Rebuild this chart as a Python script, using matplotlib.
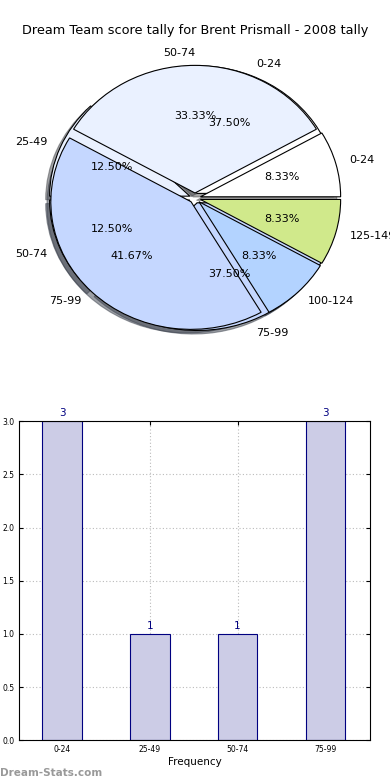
import matplotlib
matplotlib.use("Agg")
import matplotlib.pyplot as plt

# score bands for the 8 games (first pie / bar chart)
bands_a = ["0-24", "25-49", "50-74", "75-99"]
counts_a = [3, 1, 1, 3]
# second tally pie
bands_b = ["0-24", "50-74", "75-99", "100-124", "125-149"]
counts_b = [1, 4, 5, 1, 1]

colors_a = ["#ffffff", "#eaf1ff", "#c5d7ff", "#c5d7ff"]
colors_b = ["#ffffff", "#eaf1ff", "#c5d7ff", "#b3d3ff", "#d0e98b"]

fig = plt.figure(figsize=(3.9, 7.8), dpi=100)
fig.suptitle("Dream Team score tally for Brent Prismall - 2008 tally",
             fontsize=9.3, y=0.969)

ax1 = fig.add_axes([0.1045, 0.566, 0.791, 0.360])
wprops = dict(edgecolor="black", linewidth=0.8)
tprops = dict(fontsize=8)
ax1.pie(counts_a, labels=bands_a, colors=colors_a, autopct="%1.2f%%",
        explode=[0.04] * len(counts_a), shadow=True,
        wedgeprops=wprops, textprops=tprops)
ax1.pie(counts_b, labels=bands_b, colors=colors_b, autopct="%1.2f%%",
        explode=[0.04] * len(counts_b), shadow=True,
        wedgeprops=wprops, textprops=tprops)
ax1.set_aspect("auto")
ax1.set_xlim(-1.1, 1.1)
ax1.set_ylim(-1.1, 1.1)
ax1.axis("off")

ax2 = fig.add_axes([0.049, 0.051, 0.900, 0.409])
xs = range(len(bands_a))
ax2.bar(xs, counts_a, width=0.45, color="#ccccE6", edgecolor="#000080",
        linewidth=0.8, zorder=2)
for x, c in zip(xs, counts_a):
    ax2.text(x, c + 0.03, str(c), ha="center", va="bottom",
             color="#000080", fontsize=7.5)
ax2.set_xlim(-0.49, 3.51)
ax2.set_ylim(0, 3.0)
ax2.set_xticks(list(xs))
ax2.set_xticklabels(bands_a)
ax2.set_yticks([0, 0.5, 1.0, 1.5, 2.0, 2.5, 3.0])
ax2.set_yticklabels(["0.0", "0.5", "1.0", "1.5", "2.0", "2.5", "3.0"])
ax2.tick_params(labelsize=5.5, direction="in", length=3, top=True, right=True)
ax2.grid(True, linestyle=(0, (1, 2)), color="#bbbbbb", linewidth=0.8, zorder=3)
ax2.set_xlabel("Frequency", fontsize=7.5, labelpad=2)

fig.text(0.0, 0.003, "Dream-Stats.com", fontsize=7.5, color="#999999",
         fontweight="bold", ha="left", va="bottom")

fig.savefig("out.png", dpi=100)
